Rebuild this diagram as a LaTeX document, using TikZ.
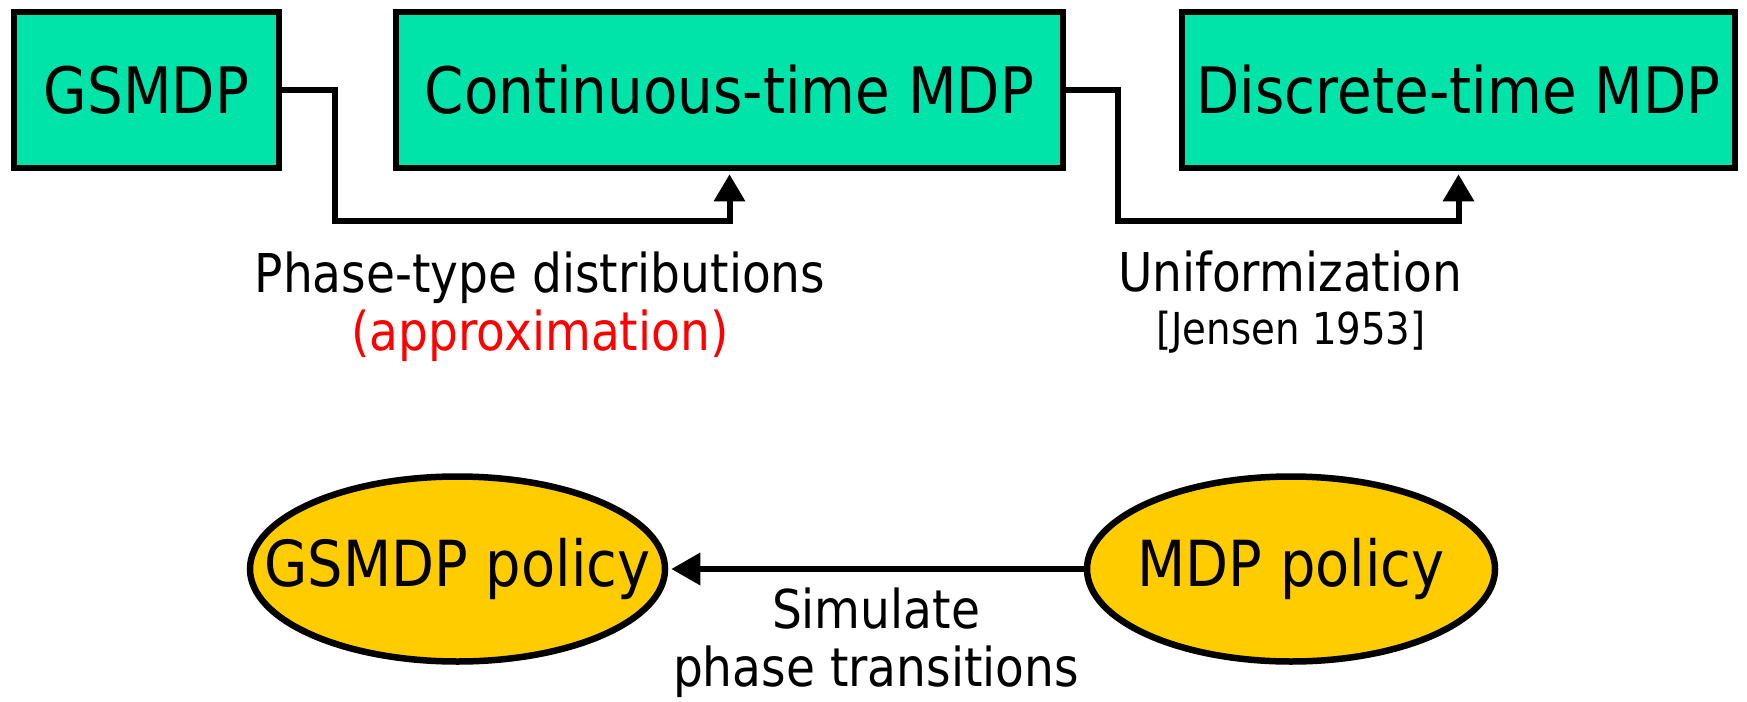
\documentclass[tikz,border=0pt]{standalone}
\usepackage{fontspec}
\setmainfont{DejaVu Sans}[FakeStretch=0.88]
\usetikzlibrary{arrows.meta,shapes.geometric}

\definecolor{modelgreen}{RGB}{0,228,170}
\definecolor{policygold}{RGB}{255,204,0}
\definecolor{notered}{RGB}{255,0,0}

% zero-width box so that the ellipse keeps its own size
\newcommand{\centred}[1]{\makebox[0pt]{#1}}

\tikzset{
  model/.style={draw=black, line width=6.5pt, fill=modelgreen, rectangle,
    inner sep=0pt, font=\fontsize{64}{70}\selectfont},
  policy/.style={draw=black, line width=6.5pt, fill=policygold, ellipse,
    inner sep=0pt, font=\fontsize{63.5}{70}\selectfont},
  link/.style={line width=6pt, line cap=butt, line join=miter, shorten >=3pt,
    -{Triangle[length=27pt,width=30pt]}},
  label/.style={anchor=base, inner sep=0pt, font=\fontsize{53.5}{60}\selectfont},
  cite/.style={anchor=base, inner sep=0pt, font=\fontsize{44}{50}\selectfont},
}

\begin{document}
\begin{tikzpicture}[x=1pt, y=-1pt]
  \useasboundingbox (0,0) rectangle (1747,701);

  % model chain
  \node[model, minimum width=265pt, minimum height=156pt] (gsmdp) at (146.5,90) {GSMDP};
  \node[model, minimum width=667pt, minimum height=156pt] (ctmdp) at (729.5,90) {Continuous-time MDP};
  \node[model, minimum width=553pt, minimum height=156pt] (dtmdp) at (1458.5,90) {Discrete-time MDP};

  \coordinate (bend1) at (335,221);
  \coordinate (bend2) at (1118,221);

  \draw[link] (gsmdp.east) -| (bend1) -| (ctmdp.south);
  \draw[link] (ctmdp.east) -| (bend2) -| (dtmdp.south);

  \node[label] (phase) at (540,292) {Phase-type distributions};
  \node[label, text=notered] (approx) at (540,350) {(approximation)};
  \node[label] (unif) at (1290,291) {Uniformization};
  \node[cite] (jensen) at (1291,344) {[Jensen 1953]};

  % policies
  \node[policy, minimum width=415pt, minimum height=185pt] (gpol) at (457.5,569) {\centred{GSMDP policy}};
  \node[policy, minimum width=408pt, minimum height=185pt] (mpol) at (1291,569) {\centred{MDP policy}};

  \draw[link, line width=6.5pt, -{Triangle[length=29pt,width=31pt]}] (mpol.west) -- (gpol.east);

  \node[label] (sim) at (876,628) {Simulate};
  \node[label] (trans) at (876,686) {phase transitions};
\end{tikzpicture}
\end{document}
